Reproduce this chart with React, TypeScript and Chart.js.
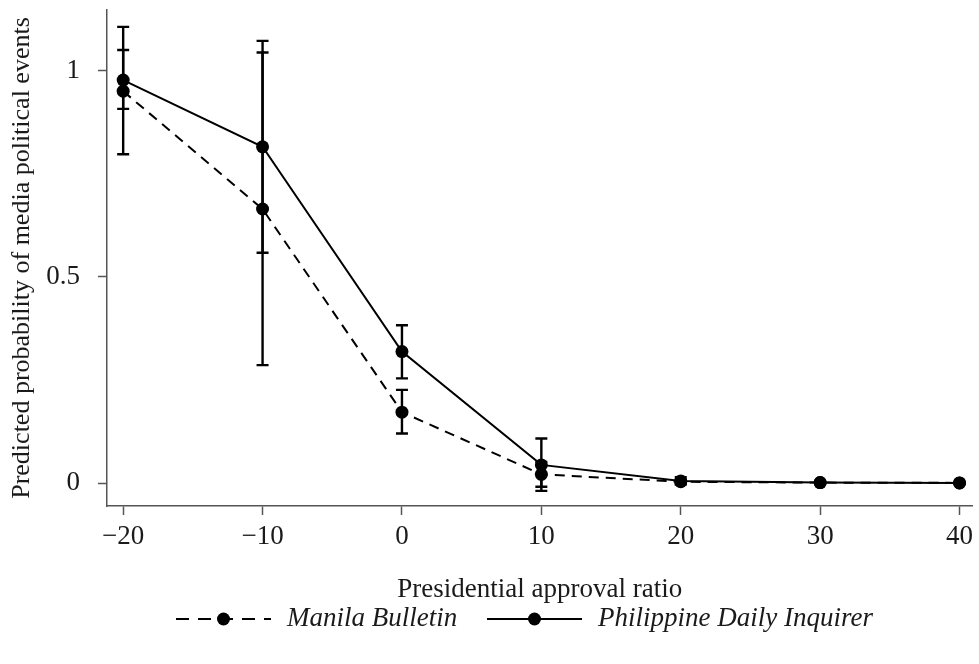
import React, { useEffect, useRef } from 'react';
import { Chart, registerables } from 'chart.js';

Chart.register(...registerables);

// ---- Data ----
const xValues = [-20, -10, 0, 10, 20, 30, 40];

const mbValues = [0.951, 0.665, 0.172, 0.021, 0.003, 0.001, 0.0003];
const mbLow = [0.798, 0.286, 0.12, -0.009, -0.002, 0.0, 0.0];
const mbHigh = [1.107, 1.045, 0.226, 0.051, 0.008, 0.002, 0.0006];

const pdiValues = [0.978, 0.816, 0.319, 0.044, 0.005, 0.001, 0.0003];
const pdiLow = [0.908, 0.559, 0.254, -0.019, -0.004, 0.0, 0.0];
const pdiHigh = [1.051, 1.073, 0.383, 0.108, 0.014, 0.002, 0.0006];

const xTicks = [-20, -10, 0, 10, 20, 30, 40];
const yTicks = [0, 0.5, 1];

const seriesNames = ['Manila Bulletin', 'Philippine Daily Inquirer'];
const xTitle = 'Presidential approval ratio';
const yTitle = 'Predicted probability of media political events';

// ---- Styles ----
const FONT = '"Liberation Serif", "Times New Roman", Times, serif';
const FONT_SIZE = 27;
const Y_TITLE_SIZE = 26;
const TEXT_COLOR = '#1a1a1a';
const AXIS_COLOR = '#555';

const fmtX = (v: number) => (v < 0 ? '\u2212' + Math.abs(v) : String(v));
const fmtY = (v: number) => String(v);

const errorBarPlugin = {
  id: 'errorBars',
  beforeDatasetsDraw(chart: any, _args: any, opts: any) {
    const { ctx, scales } = chart;
    const xs = scales.x;
    const ys = scales.y;
    ctx.save();
    ctx.strokeStyle = '#000';
    ctx.lineWidth = opts.lineWidth;
    ctx.setLineDash([]);
    (opts.series as any[]).forEach((s) => {
      s.x.forEach((xv: number, i: number) => {
        const px = xs.getPixelForValue(xv);
        const pl = ys.getPixelForValue(s.low[i]);
        const ph = ys.getPixelForValue(s.high[i]);
        const hw = opts.capHalf;
        ctx.beginPath();
        ctx.moveTo(px, pl);
        ctx.lineTo(px, ph);
        ctx.moveTo(px - hw, pl);
        ctx.lineTo(px + hw, pl);
        ctx.moveTo(px - hw, ph);
        ctx.lineTo(px + hw, ph);
        ctx.stroke();
      });
    });
    ctx.restore();
  },
};

const bottomLegendPlugin = {
  id: 'bottomLegend',
  afterDraw(chart: any, _args: any, opts: any) {
    const ctx = chart.ctx;
    const yc = opts.y;
    (opts.items as any[]).forEach((item) => {
      ctx.save();
      ctx.strokeStyle = '#000';
      ctx.fillStyle = '#000';
      ctx.lineWidth = 2;
      ctx.setLineDash(item.dash);
      ctx.beginPath();
      ctx.moveTo(item.x0, yc);
      ctx.lineTo(item.x1, yc);
      ctx.stroke();
      ctx.setLineDash([]);
      ctx.beginPath();
      ctx.arc((item.x0 + item.x1) / 2, yc, 6.5, 0, Math.PI * 2);
      ctx.fill();
      ctx.fillStyle = TEXT_COLOR;
      ctx.font = `italic ${FONT_SIZE}px ${FONT}`;
      ctx.textBaseline = 'middle';
      ctx.textAlign = 'left';
      ctx.fillText(item.label, item.tx, yc);
      ctx.restore();
    });
  },
};

export default function App() {
  const canvasRef = useRef<HTMLCanvasElement | null>(null);

  useEffect(() => {
    if (!canvasRef.current) return;
    const chart = new Chart(canvasRef.current, {
      type: 'line',
      data: {
        datasets: [
          {
            label: seriesNames[0],
            data: xValues.map((x, i) => ({ x, y: mbValues[i] })),
            borderColor: '#000',
            backgroundColor: '#000',
            borderWidth: 2,
            borderDash: [10, 7],
            pointRadius: 6.5,
            pointBorderWidth: 0,
            pointBackgroundColor: '#000',
            fill: false,
            tension: 0,
          },
          {
            label: seriesNames[1],
            data: xValues.map((x, i) => ({ x, y: pdiValues[i] })),
            borderColor: '#000',
            backgroundColor: '#000',
            borderWidth: 2,
            pointRadius: 6.5,
            pointBorderWidth: 0,
            pointBackgroundColor: '#000',
            fill: false,
            tension: 0,
          },
        ],
      },
      options: {
        animation: false,
        responsive: false,
        layout: { padding: { top: 10, right: 2, bottom: 58, left: 0 } },
        plugins: {
          legend: { display: false },
          tooltip: { enabled: false },
          errorBars: {
            lineWidth: 2.4,
            capHalf: 6,
            series: [
              { x: xValues, low: mbLow, high: mbHigh },
              { x: xValues, low: pdiLow, high: pdiHigh },
            ],
          },
          bottomLegend: {
            y: 619,
            items: [
              { label: seriesNames[0], dash: [13, 9], x0: 176, x1: 271, tx: 287 },
              { label: seriesNames[1], dash: [], x0: 487, x1: 582, tx: 598 },
            ],
          },
        } as any,
        scales: {
          x: {
            type: 'linear',
            min: -21.16,
            max: 40.93,
            afterBuildTicks: (s: any) => {
              s.ticks = xTicks.map((v) => ({ value: v }));
            },
            afterFit: (s: any) => {
              s.height = 100;
              s.paddingLeft = 0;
              s.paddingRight = 0;
            },
            grid: {
              display: true,
              drawOnChartArea: false,
              drawTicks: true,
              tickLength: 9,
              tickWidth: 1.5,
              tickColor: AXIS_COLOR,
            },
            border: { display: true, color: AXIS_COLOR, width: 1.5 },
            ticks: {
              padding: 6,
              color: TEXT_COLOR,
              font: { family: FONT, size: FONT_SIZE },
              maxRotation: 0,
              autoSkip: false,
              callback: (v: any) => fmtX(Number(v)),
            },
            title: {
              display: true,
              text: xTitle,
              color: TEXT_COLOR,
              font: { family: FONT, size: FONT_SIZE },
              padding: 0,
            },
          },
          y: {
            type: 'linear',
            min: -0.0558,
            max: 1.148,
            afterBuildTicks: (s: any) => {
              s.ticks = yTicks.map((v) => ({ value: v }));
            },
            afterFit: (s: any) => {
              s.width = 107;
              s.paddingTop = 0;
              s.paddingBottom = 0;
            },
            grid: {
              display: true,
              drawOnChartArea: false,
              drawTicks: true,
              tickLength: 9,
              tickWidth: 1.5,
              tickColor: AXIS_COLOR,
            },
            border: { display: true, color: AXIS_COLOR, width: 1.5 },
            ticks: {
              padding: 18,
              color: TEXT_COLOR,
              font: { family: FONT, size: FONT_SIZE },
              autoSkip: false,
              callback: (v: any) => fmtY(Number(v)),
            },
            title: {
              display: true,
              text: yTitle,
              color: TEXT_COLOR,
              font: { family: FONT, size: Y_TITLE_SIZE },
              padding: { top: 7, bottom: 0 },
            },
          },
        },
      },
      plugins: [errorBarPlugin, bottomLegendPlugin],
    } as any);
    return () => chart.destroy();
  }, []);

  return (
    <div style={{ position: 'absolute', left: 0, top: 0, width: 979, height: 664, background: '#fff' }}>
      <canvas ref={canvasRef} width={979} height={664} style={{ width: 979, height: 664, display: 'block' }} />
    </div>
  );
}
